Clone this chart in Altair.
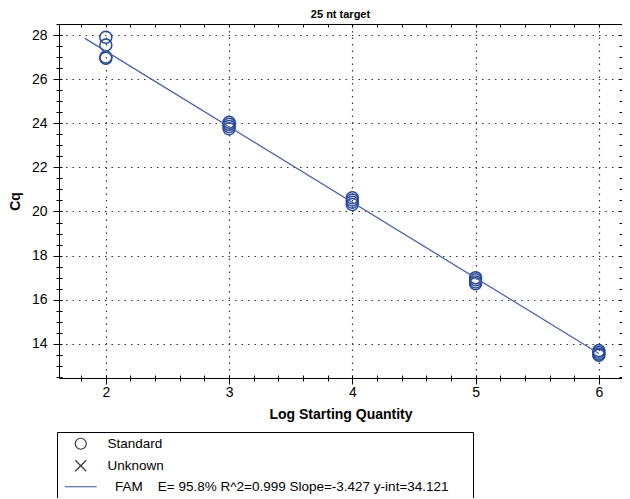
import altair as alt
import pandas as pd

# ---- data ----
log_qty = [2, 2, 2, 2, 3, 3, 3, 3, 4, 4, 4, 4, 5, 5, 5, 5, 6, 6, 6, 6]
cq_vals = [27.9, 27.55, 27.0, 26.95,
           24.05, 23.95, 23.85, 23.75,
           20.62, 20.52, 20.42, 20.32,
           17.0, 16.9, 16.8, 16.72,
           13.7, 13.62, 13.54, 13.48]

fit_x = [1.83, 6.0]
fit_y = [27.85, 13.56]

x_major = [2, 3, 4, 5, 6]
y_major = [14, 16, 18, 20, 22, 24, 26, 28]
x_minor = [1.8, 2.0, 2.2, 2.4, 2.6, 2.8, 3.0, 3.2, 3.4, 3.6, 3.8, 4.0, 4.2, 4.4,
           4.6, 4.8, 5.0, 5.2, 5.4, 5.6, 5.8, 6.0]
y_minor = [12.5, 13, 13.5, 14, 14.5, 15, 15.5, 16, 16.5, 17, 17.5, 18, 18.5, 19,
           19.5, 20, 20.5, 21, 21.5, 22, 22.5, 23, 23.5, 24, 24.5, 25, 25.5, 26,
           26.5, 27, 27.5, 28, 28.5]

NB = "\u00a0"
ZW = "\u200b"
legend_names = ["Standard", "Unknown",
                ZW + NB * 2 + "FAM" + NB * 4 + "E= 95.8% R^2=0.999 Slope=-3.427 y-int=34.121" + NB * 5 + ZW]
legend_shapes = ["circle", "M-1,-1L1,1M-1,1L1,-1", "M-2.9,0L2.9,0"]
legend_colors = ["#333333", "#333333", "#3b4f9a"]

X_DOMAIN = [1.62, 6.188]
Y_DOMAIN = [12.45, 28.5]
W, H = 563, 354

pts = pd.DataFrame({"x": log_qty, "cq": cq_vals})
fit = pd.DataFrame({"x": fit_x, "cq": fit_y})
leg = pd.DataFrame({"x": [0.0] * 3, "cq": [0.0] * 3, "series": legend_names})

xs = alt.Scale(domain=X_DOMAIN, nice=False, zero=False)
ys = alt.Scale(domain=Y_DOMAIN, nice=False, zero=False)

FONT = "Liberation Sans"

def minor_axis(values, orient, size, offset=0):
    kw = dict(values=values, orient=orient, tickSize=size, labels=False, grid=False,
              domain=False, title=None, tickColor="black", tickWidth=1)
    if offset:
        kw["offset"] = offset
    return alt.Axis(**kw)

points = alt.Chart(pts).mark_point(
    filled=False, size=144, strokeWidth=1.5, color="#2a4a98", opacity=1
).encode(
    x=alt.X("x:Q", scale=xs, axis=alt.Axis(
        values=x_major, orient="bottom", tickSize=6, labelFontSize=14, labelFont=FONT,
        labelColor="black", labelPadding=1, format="d",
        title="Log Starting Quantity", titleFont=FONT, titleFontSize=14,
        titleFontWeight="bold", titleColor="black", titlePadding=8,
        grid=True, gridDash=[1.5, 5], gridColor="#333333", gridWidth=1.2,
        domain=False, tickColor="black")),
    y=alt.Y("cq:Q", scale=ys, axis=alt.Axis(
        values=y_major, orient="left", tickSize=6, labelFontSize=14, labelFont=FONT,
        labelColor="black", labelPadding=6, format="d",
        title="Cq", titleFont=FONT, titleFontSize=14, titleFontWeight="bold",
        titleColor="black", titlePadding=9,
        grid=True, gridDash=[1.5, 5], gridColor="#333333", gridWidth=1.2,
        domain=False, tickColor="black")),
)

line = alt.Chart(fit).mark_line(color="#4a64a6", strokeWidth=1.3).encode(
    x=alt.X("x:Q", scale=xs, axis=minor_axis(x_minor, "bottom", 3)),
    y=alt.Y("cq:Q", scale=ys, axis=minor_axis(y_minor, "left", 3)),
)

legend_layer = alt.Chart(leg).mark_point(
    filled=False, clip=True, size=121, strokeWidth=1.2, opacity=1
).encode(
    x=alt.X("x:Q", scale=xs, axis=minor_axis(x_minor, "top", 3, -H)),
    y=alt.Y("cq:Q", scale=ys, axis=minor_axis(y_minor, "right", 3, -W)),
    shape=alt.Shape("series:N", scale=alt.Scale(domain=legend_names, range=legend_shapes),
                    legend=alt.Legend(title=None)),
    color=alt.Color("series:N", scale=alt.Scale(domain=legend_names, range=legend_colors),
                    legend=alt.Legend(title=None)),
)

ghost = alt.Chart(pts).mark_point(opacity=0).encode(
    x=alt.X("x:Q", scale=xs, axis=minor_axis(x_minor, "bottom", 3, -H)),
    y=alt.Y("cq:Q", scale=ys, axis=minor_axis(y_minor, "left", 3, -W)),
)

chart = alt.layer(points, line, legend_layer, ghost).resolve_axis(
    x="independent", y="independent"
).properties(
    width=W, height=H,
    padding={"left": 51, "top": 16, "right": 0, "bottom": 120},
    autosize=alt.AutoSizeParams(type="none"),
    title=alt.TitleParams("25 nt target", font=FONT, fontSize=11,
                          fontWeight="bold", color="black", anchor="middle", offset=4),
).configure_view(
    stroke="black", strokeWidth=1
).configure_legend(
    orient="none", legendX=-2, legendY=408,
    strokeColor="black", fillColor="white", padding=5,
    labelFont=FONT, labelFontSize=13.5, labelColor="black", labelLimit=600,
    symbolSize=121, symbolStrokeWidth=1.2, symbolOffset=12, labelOffset=20,
    rowPadding=5, cornerRadius=0,
)

chart.save("out.html", embed_options={"renderer": "svg", "actions": False})
